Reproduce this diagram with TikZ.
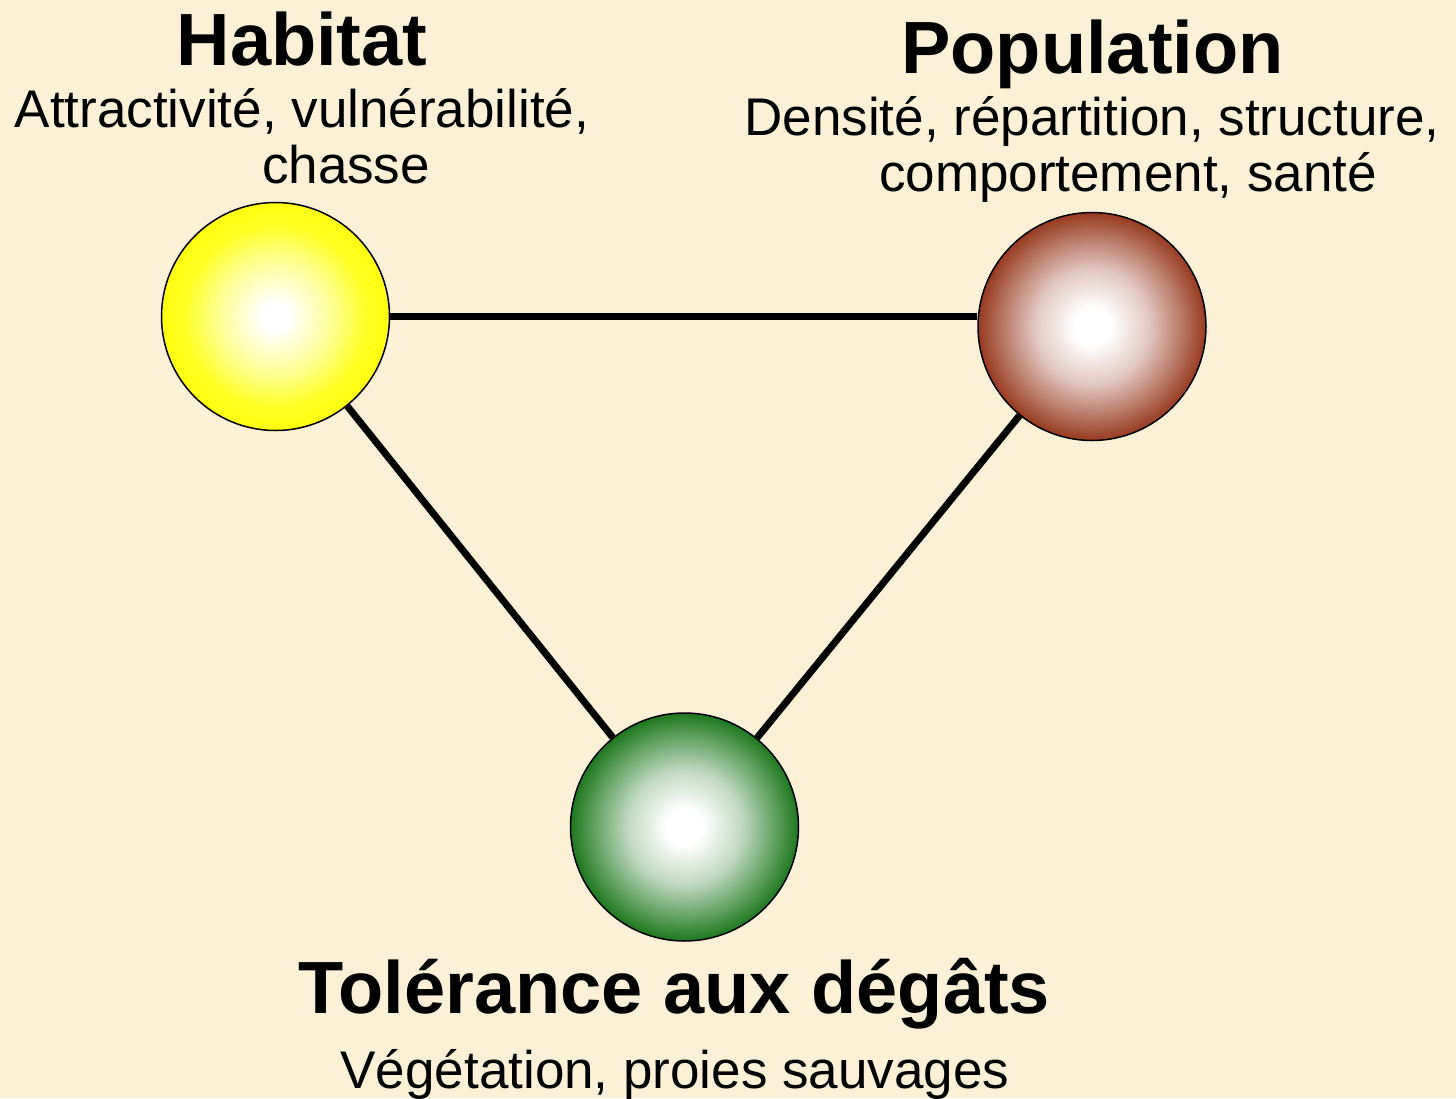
\documentclass[tikz,border=0pt]{standalone}
\usepackage{fontspec}
\setmainfont{Liberation Sans}
\definecolor{bgcol}{HTML}{FCF0D6}
\definecolor{ballyellow}{HTML}{FFFF10}
\definecolor{ballbrown}{HTML}{983A20}
\definecolor{ballgreen}{HTML}{1E781E}
\pgfdeclareradialshading{shadeYellow}{\pgfpoint{0bp}{0bp}}{color(0bp)=(white); color(3bp)=(white); color(12.5bp)=(ballyellow!45!white); color(20bp)=(ballyellow!92!white); color(25bp)=(ballyellow); color(50bp)=(ballyellow)}
\pgfdeclareradialshading{shadeBrown}{\pgfpoint{0bp}{0bp}}{color(0bp)=(white); color(4bp)=(white); color(12.5bp)=(ballbrown!28!white); color(19bp)=(ballbrown!65!white); color(25bp)=(ballbrown); color(50bp)=(ballbrown)}
\pgfdeclareradialshading{shadeGreen}{\pgfpoint{0bp}{0bp}}{color(0bp)=(white); color(4bp)=(white); color(12.5bp)=(ballgreen!28!white); color(19bp)=(ballgreen!65!white); color(25bp)=(ballgreen); color(50bp)=(ballgreen)}
\tikzset{
  ball/.style={circle, draw=black, line width=1.5pt, inner sep=0pt, minimum size=228pt, shade},
  link/.style={line width=7pt, black},
  title/.style={anchor=base, inner sep=0pt, font=\fontsize{74}{80}\selectfont\bfseries},
  sub/.style={anchor=base, inner sep=0pt, font=\fontsize{53}{60}\selectfont},
}
\begin{document}
\begin{tikzpicture}[x=1pt, y=-1pt]
\useasboundingbox (0,0) rectangle (1456,1098);
\fill[bgcol] (0,0) rectangle (1456,1098);

\node[ball, shading=shadeYellow] (hab) at (275.5,316.5) {};
\node[ball, shading=shadeBrown] (pop) at (1092,326.5) {};
\node[ball, shading=shadeGreen] (tol) at (684.5,827) {};

\draw[link] (hab.east) -- (hab.east -| pop.west);
\draw[link] (hab) -- (tol);
\draw[link] (pop) -- (tol);

\node[title] (habT) at (302,65) {Habitat};
\node[sub] (habS1) at (302,127) {Attractivité, vulnérabilité,};
\node[sub] (habS2) at (346,183) {chasse};

\node[title] (popT) at (1092.5,73) {Population};
\node[sub] (popS1) at (1092,135) {Densité, répartition, structure,};
\node[sub] (popS2) at (1128,191) {comportement, santé};

\node[title] (tolT) at (674.5,1013) {Tolérance aux dégâts};
\node[sub] (tolS) at (675,1088) {Végétation, proies sauvages};
\end{tikzpicture}
\end{document}
